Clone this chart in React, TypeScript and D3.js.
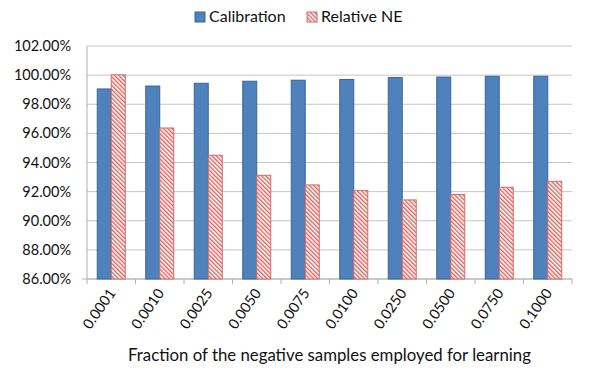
import * as d3 from "d3";

const categories = ["0.0001", "0.0010", "0.0025", "0.0050", "0.0075", "0.0100", "0.0250", "0.0500", "0.0750", "0.1000"];
const calibration = [99.05, 99.25, 99.44, 99.58, 99.65, 99.7, 99.83, 99.87, 99.92, 99.92];
const relativeNE = [100.02, 96.37, 94.5, 93.12, 92.46, 92.07, 91.43, 91.8, 92.3, 92.71];
const yTicks = [86, 88, 90, 92, 94, 96, 98, 100, 102];

const W = 594;
const H = 384;
const M = { left: 87, right: 22, top: 46, bottom: 105 };
const FONT = "Lato, 'Open Sans', sans-serif";

const App = () => {
    const x = d3.scaleBand<string>().domain(categories).range([M.left, W - M.right]);
    const y = d3.scaleLinear().domain([86, 102]).range([H - M.bottom, M.top]);
    const barW = 14;
    const base = y(86);

    return (
        <svg width={W} height={H} style={{ position: "absolute", left: 0, top: 0, background: "#fff" }}>
            <defs>
                <pattern id="hatch" width="3" height="3" patternUnits="userSpaceOnUse" patternTransform="rotate(-45)">
                    <rect width="3" height="3" fill="#fff" />
                    <rect width="1.4" height="3" fill="#D9625E" />
                </pattern>
            </defs>
            {yTicks.map((t) => (
                <g key={t}>
                    <line x1={M.left} x2={W - M.right} y1={y(t)} y2={y(t)} stroke="#c6c6c6" strokeWidth={1} />
                    <text x={71} y={y(t) + 5} textAnchor="end" fontFamily={FONT} fontSize={14.5} fill="#111">
                        {d3.format(".2f")(t)}%
                    </text>
                </g>
            ))}
            <line x1={M.left} x2={M.left} y1={M.top} y2={base} stroke="#b0b0b0" />
            <line x1={M.left - 5} x2={W - M.right} y1={base} y2={base} stroke="#b0b0b0" />
            {categories.map((c, i) => (
                <line key={c} x1={M.left + (i + 1) * x.bandwidth()} x2={M.left + (i + 1) * x.bandwidth()} y1={base} y2={base + 5} stroke="#b0b0b0" />
            ))}
            <line x1={M.left} x2={M.left} y1={base} y2={base + 5} stroke="#b0b0b0" />
            {categories.map((c, i) => {
                const cx = (x(c) ?? 0) + x.bandwidth() / 2;
                return (
                    <g key={c}>
                        <rect x={cx - barW} y={y(calibration[i])} width={barW} height={base - y(calibration[i])} fill="#4F81BD" stroke="#3A6496" strokeWidth={1} />
                        <rect x={cx} y={y(relativeNE[i])} width={barW} height={base - y(relativeNE[i])} fill="url(#hatch)" stroke="#D46A66" strokeWidth={1} />
                        <text transform={`translate(${cx + 5},${base + 14}) rotate(-55)`} textAnchor="end" fontFamily={FONT} fontSize={14.5} fill="#111">
                            {c}
                        </text>
                    </g>
                );
            })}
            <text x={(M.left + W - M.right) / 2} y={361} textAnchor="middle" fontFamily={FONT} fontSize={16.8} fill="#111">
                Fraction of the negative samples employed for learning
            </text>
            <rect x={195} y={12} width={10} height={10} fill="#4F81BD" stroke="#3A6496" />
            <text x={209} y={22} fontFamily={FONT} fontSize={16} fill="#111">Calibration</text>
            <rect x={307} y={12} width={10} height={10} fill="url(#hatch)" stroke="#D46A66" />
            <text x={321} y={22} fontFamily={FONT} fontSize={16} fill="#111">Relative NE</text>
        </svg>
    );
};

export default App;
